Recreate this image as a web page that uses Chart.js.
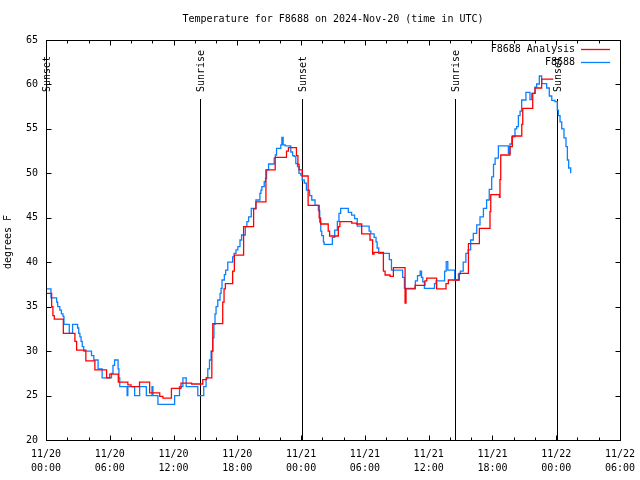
<!DOCTYPE html>
<html>
<head>
<meta charset="utf-8">
<script src="https://cdn.jsdelivr.net/npm/chart.js@4"></script>
<style>
  html, body { margin: 0; padding: 0; background: #fff; }
  canvas { display: block; }
</style>
</head>
<body>
<canvas id="tempChart" width="640" height="480"></canvas>
<script>
// observed temperature (hours since 11/20 00:00 UTC, degrees F)
const obsHours = [0, 0.47, 1.0, 1.1, 1.3, 1.45, 1.6, 1.69, 2.19, 2.5, 2.97, 3.08, 3.19, 3.3, 3.41, 3.55, 4.28, 4.5, 4.9, 5.28,
    6.16, 6.3, 6.45, 6.78, 6.86, 6.94, 7.63, 7.7, 8.34, 8.81, 9.44, 9.97, 10.06, 10.53, 12.1, 12.56, 12.88, 13.19, 14.28, 14.84,
    15.06, 15.22, 15.38, 15.53, 15.69, 15.8, 15.9, 16.0, 16.16, 16.375, 16.47, 16.56, 16.78, 16.9, 17.1, 17.56, 17.7, 17.875, 18.05, 18.25,
    18.4, 18.75, 18.9, 19.06, 19.31, 19.75, 20.125, 20.22, 20.31, 20.53, 20.65, 20.75, 20.94, 21.47, 21.58, 21.69, 22.09, 22.19, 22.31, 22.5,
    23.03, 23.2, 23.34, 23.5, 23.66, 23.8, 23.97, 24.1, 24.3, 24.5, 24.8, 25.0, 25.31, 25.625, 25.75, 25.85, 25.94, 26.1, 26.16, 26.94,
    27.16, 27.41, 27.56, 27.72, 28.44, 28.75, 29.03, 29.28, 30.4, 30.56, 30.87, 31.05, 31.15, 31.3, 32.3, 32.5, 33.55, 33.72, 34.75, 34.95,
    35.2, 35.33, 35.45, 35.6, 36.55, 36.7, 37.5, 37.65, 37.8, 38.45, 38.8, 38.98, 39.25, 39.5, 39.72, 39.95, 40.2, 40.52, 40.83, 41.15,
    41.45, 41.7, 41.93, 42.1, 42.25, 42.56, 43.5, 43.65, 43.82, 44.12, 44.28, 44.44, 44.6, 44.75, 45.15, 45.53, 45.7, 46.0, 46.16, 46.41,
    46.63, 47.1, 47.35, 47.58, 47.88, 48.1, 48.2, 48.36, 48.52, 48.73, 48.92, 49.05, 49.17, 49.36];
const obsTemps = [37, 36, 35.5, 35, 34.6, 34.2, 33.9, 33, 32, 33, 32.6, 32, 31.6, 31.1, 30.5, 30, 29.5, 29, 28, 27,
    27.5, 28.4, 29, 28, 27, 26, 25, 26, 25, 26, 25, 26, 25, 24, 25, 26, 27, 26, 25, 26,
    27, 28, 29, 30, 31.5, 33, 34.2, 35, 35.75, 36.5, 37.06, 38, 38.6, 39.1, 40, 40.6, 41, 41.4, 41.75, 42.5,
    43.06, 44, 44.56, 45.1, 46.06, 47, 47.75, 48.1, 48.5, 49.06, 49.44, 50.4, 51.05, 51.7, 52.06, 52.8, 53.2, 54.05, 53.2, 53.1,
    52.4, 52.0, 51.9, 51.1, 50.75, 50.0, 49.8, 49.25, 48.9, 48.1, 47.5, 47.0, 46.4, 45.8, 44.5, 43.5, 43.0, 42.3, 42.0, 42.8,
    43.6, 44.6, 45.5, 46.06, 45.6, 45.3, 44.9, 44.07, 43.5, 43.2, 42.8, 42.3, 41.6, 41.0, 40.3, 39.1, 38.3, 37.06, 37.9, 38.5,
    39.0, 38.3, 37.8, 37.06, 37.6, 37.9, 39.0, 40.06, 39.1, 38.0, 38.7, 39.0, 40.0, 41.0, 41.4, 42.5, 43.25, 44.2, 45.1, 46.06,
    47.0, 48.2, 49.6, 51.0, 51.7, 53.1, 52.25, 53.3, 54.1, 55.0, 55.25, 56.5, 57.0, 58.25, 59.1, 58.3, 59.0, 59.7, 60.05, 60.95,
    60.1, 59.6, 58.7, 58.2, 58.06, 57.1, 56.5, 55.8, 55.0, 54.0, 53.0, 51.5, 50.6, 50.0];

// analysis temperature
const anaHours = [0, 0.53, 0.65, 0.78, 1.63, 2.72, 2.88, 3.75, 4.6, 5.7, 6.0, 6.8, 7.7, 8.0, 8.8, 9.75, 10.7, 11.0, 11.8, 12.7,
    13.7, 14.75, 15.1, 15.6, 15.69, 16.625, 16.75, 16.875, 17.56, 17.72, 18.59, 19.53, 19.75, 20.69, 21.56, 22.625, 22.81, 23.56, 23.7, 23.81,
    24.1, 24.66, 25.7, 25.83, 26.55, 26.68, 27.5, 27.65, 28.76, 29.22, 29.7, 30.48, 30.73, 30.86, 31.74, 31.9, 32.37, 32.68, 33.78, 33.87,
    34.72, 35.65, 35.82, 36.75, 37.63, 37.85, 38.88, 39.74, 40.77, 41.77, 41.84, 42.65, 42.71, 42.78, 43.65, 43.87, 44.76, 44.85, 45.79, 46.01,
    46.63, 47.73];
const anaTemps = [36.5, 35.0, 34.0, 33.6, 32.0, 31.1, 30.1, 28.9, 27.9, 27.0, 27.4, 26.5, 26.2, 26.0, 26.5, 25.3, 24.9, 24.7, 25.8, 26.4,
    26.3, 26.8, 27.0, 30.0, 33.1, 35.5, 37.0, 37.6, 39.0, 40.8, 44.0, 46.0, 46.8, 50.4, 51.8, 52.5, 52.9, 52.0, 51.0, 50.4,
    49.7, 46.4, 45.0, 44.3, 43.5, 42.95, 44.0, 44.56, 44.4, 44.3, 43.2, 42.5, 40.9, 41.1, 39.0, 38.56, 38.4, 39.4, 35.4, 37.0,
    37.4, 37.9, 38.2, 37.0, 37.6, 38.0, 38.75, 42.1, 43.8, 45.7, 47.6, 47.3, 49.3, 52.06, 53.0, 54.2, 55.5, 57.3, 59.0, 59.6,
    60.6, 60.6];

// sunrise / sunset markers
const sunHours = [0, 14.52, 24.11, 38.5, 48.1];
const sunLabels = ['Sunset', 'Sunrise', 'Sunset', 'Sunrise', 'Sunset'];

// x tick labels every 6 hours
const xTickLabels = [
    ['11/20', '00:00'], ['11/20', '06:00'], ['11/20', '12:00'], ['11/20', '18:00'],
    ['11/21', '00:00'], ['11/21', '06:00'], ['11/21', '12:00'], ['11/21', '18:00'],
    ['11/22', '00:00'], ['11/22', '06:00']
];

const FONT = '10px "DejaVu Sans Mono", monospace';

const gnuplotDecor = {
    id: 'gnuplotDecor',
    beforeDatasetsDraw(chart) {
        const ctx = chart.ctx;
        const xs = chart.scales.x;
        const area = chart.chartArea;
        ctx.save();
        ctx.strokeStyle = '#000';
        ctx.lineWidth = 1;
        ctx.fillStyle = '#000';
        ctx.font = FONT;
        sunHours.forEach((h, i) => {
            const px = Math.round(xs.getPixelForValue(h)) + 0.5;
            ctx.beginPath();
            ctx.moveTo(px, 99);
            ctx.lineTo(px, area.bottom);
            ctx.stroke();
            ctx.save();
            ctx.translate(px + 1, 92);
            ctx.rotate(-Math.PI / 2);
            ctx.textAlign = 'left';
            ctx.textBaseline = 'middle';
            ctx.fillText(sunLabels[i], 0, 0);
            ctx.restore();
        });
        ctx.restore();
    },
    afterDraw(chart) {
        const ctx = chart.ctx;
        const xs = chart.scales.x;
        const ys = chart.scales.y;
        const area = chart.chartArea;
        const l = Math.round(area.left) + 0.5, r = Math.round(area.right) + 0.5;
        const t = Math.round(area.top) + 0.5, b = Math.round(area.bottom) + 0.5;
        ctx.save();
        ctx.strokeStyle = '#000';
        ctx.lineWidth = 1;
        // border
        ctx.strokeRect(l, t, r - l, b - t);
        // inward ticks
        ctx.beginPath();
        xs.ticks.forEach(tk => {
            const px = Math.round(xs.getPixelForValue(tk.value)) + 0.5;
            const len = tk.value % 6 === 0 ? 5 : 3;
            ctx.moveTo(px, b); ctx.lineTo(px, b - len);
            ctx.moveTo(px, t); ctx.lineTo(px, t + len);
        });
        ys.ticks.forEach(tk => {
            const py = Math.round(ys.getPixelForValue(tk.value)) + 0.5;
            ctx.moveTo(l, py); ctx.lineTo(l + 5, py);
            ctx.moveTo(r, py); ctx.lineTo(r - 5, py);
        });
        ctx.stroke();

        ctx.fillStyle = '#000';
        ctx.font = FONT;
        // title
        ctx.textAlign = 'center';
        ctx.textBaseline = 'middle';
        ctx.fillText('Temperature for F8688 on 2024-Nov-20 (time in UTC)', (area.left + area.right) / 2, 19);
        // y axis title
        ctx.save();
        ctx.translate(8, 242);
        ctx.rotate(-Math.PI / 2);
        ctx.fillText('degrees F', 0, 0);
        ctx.restore();
        // key
        const rows = [49.5, 62.5];
        chart.data.datasets.forEach((ds, i) => {
            ctx.textAlign = 'right';
            ctx.fillText(ds.label, 575, rows[i]);
            ctx.strokeStyle = ds.borderColor;
            ctx.lineWidth = 1.3;
            ctx.beginPath();
            ctx.moveTo(581, Math.floor(rows[i]) + 0.5);
            ctx.lineTo(610, Math.floor(rows[i]) + 0.5);
            ctx.stroke();
        });
        ctx.restore();
    }
};

const ctx = document.getElementById('tempChart').getContext('2d');
const tempChart = new Chart(ctx, {
    type: 'line',
    data: {
        datasets: [
            {
                label: 'F8688 Analysis',
                data: anaHours.map((h, i) => ({ x: h, y: anaTemps[i] })),
                borderColor: '#ff0000',
                borderWidth: 1.3,
                pointRadius: 0,
                stepped: true,
                fill: false
            },
            {
                label: 'F8688',
                data: obsHours.map((h, i) => ({ x: h, y: obsTemps[i] })),
                borderColor: '#0a80ff',
                borderWidth: 1.3,
                pointRadius: 0,
                stepped: true,
                fill: false
            }
        ]
    },
    options: {
        responsive: false,
        animation: false,
        devicePixelRatio: 1,
        layout: { padding: { top: 40, right: 20, left: 0, bottom: 0 } },
        plugins: {
            legend: { display: false },
            title: { display: false },
            tooltip: { enabled: false }
        },
        scales: {
            x: {
                type: 'linear',
                min: 0,
                max: 54,
                afterFit(scale) {
                    scale.height = 40;
                    scale.paddingLeft = 0;
                    scale.paddingRight = 0;
                },
                grid: { display: false, drawTicks: false },
                border: { display: false },
                ticks: {
                    stepSize: 2,
                    autoSkip: false,
                    maxRotation: 0,
                    padding: 7,
                    color: '#000',
                    font: { family: '"DejaVu Sans Mono", monospace', size: 10, lineHeight: 1.4 },
                    callback: v => (v % 6 === 0 ? xTickLabels[v / 6] : '')
                }
            },
            y: {
                min: 20,
                max: 65,
                afterFit(scale) {
                    scale.width = 46;
                    scale.paddingTop = 0;
                    scale.paddingBottom = 0;
                },
                grid: { display: false, drawTicks: false },
                border: { display: false },
                ticks: {
                    stepSize: 5,
                    padding: 8,
                    color: '#000',
                    font: { family: '"DejaVu Sans Mono", monospace', size: 10 }
                }
            }
        }
    },
    plugins: [gnuplotDecor]
});
</script>
</body>
</html>
